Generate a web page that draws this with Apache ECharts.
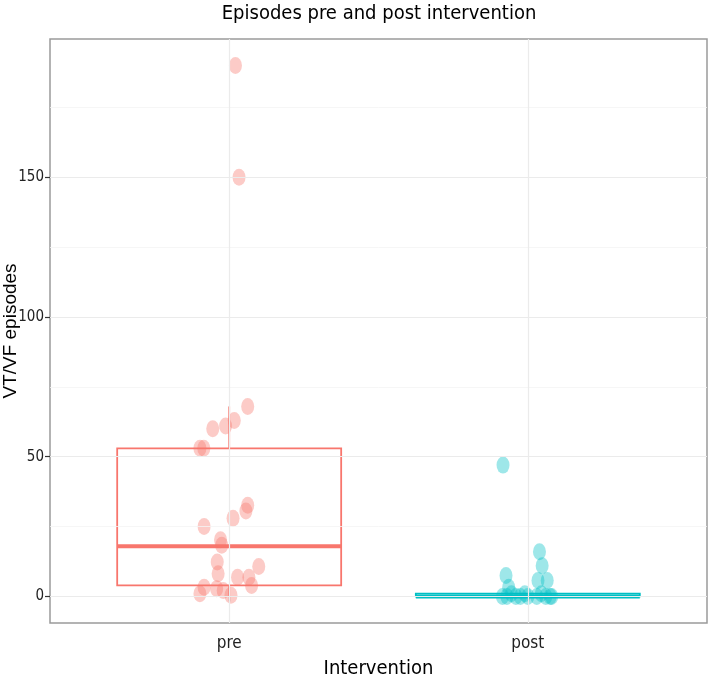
<!DOCTYPE html>
<html>
<head>
<meta charset="utf-8">
<script src="https://cdn.jsdelivr.net/npm/echarts@6/dist/echarts.min.js"></script>
<style>
  html, body { margin: 0; padding: 0; background: #fff; }
  #chart { width: 709px; height: 682px; }
</style>
</head>
<body>
<div id="chart"></div>
<script>
const categories = ['pre', 'post'];
const yTicks = [0, 50, 100, 150];
const yMinorTicks = [25, 75, 125, 175];

// jittered points (x position on the discrete axis, value)
const preX = [1.021, 1.033, 1.062, 1.017, 0.988, 0.945, 0.902, 0.915, 1.062, 1.056, 1.013, 0.916,
  0.971, 0.975, 0.960, 0.963, 1.099, 1.028, 1.066, 1.075, 0.916, 0.902, 0.958, 0.980, 1.006];
const preY = [190, 150, 68, 63, 61, 60, 53, 53, 32.6, 30.6, 28, 25,
  20.3, 18.3, 12.3, 8.1, 10.7, 6.9, 6.9, 3.9, 3.3, 1, 2.8, 2.1, 0.4];
const postX = [1.917, 2.039, 2.048, 1.927, 2.065, 2.034, 1.936,
  1.915, 1.930, 1.945, 1.960, 1.975, 1.990, 2.000, 2.030, 2.045, 2.060, 2.075, 2.080];
const postY = [47, 16, 11, 7.5, 5.7, 5.7, 3.3,
  0, 0, 1, 0, 0, 1, 0, 0, 1, 0, 0, 0];

// [x, lower whisker, Q1, median, Q3, upper whisker]
const boxStats = [
  [1, 0, 4, 18, 53, 68],
  [2, 0, 0, 0, 1, 1]
];

const colors = ['#F8766D', '#00BFC4'];
const narrow = "'Liberation Sans Narrow', 'DejaVu Sans Condensed', sans-serif";

let chart = echarts.init(document.getElementById('chart'));

function renderBox(params, api) {
  const x = api.value(0);
  const half = 0.375;
  const color = colors[params.dataIndex];
  const tl = api.coord([x - half, api.value(4)]);
  const br = api.coord([x + half, api.value(2)]);
  const med = api.coord([x, api.value(3)]);
  const top = api.coord([x, api.value(5)]);
  const bot = api.coord([x, api.value(1)]);
  return {
    type: 'group',
    children: [
      { type: 'line', shape: { x1: top[0], y1: top[1], x2: top[0], y2: tl[1] },
        style: { stroke: color, lineWidth: 1.8 } },
      { type: 'line', shape: { x1: bot[0], y1: bot[1], x2: bot[0], y2: br[1] },
        style: { stroke: color, lineWidth: 1.8 } },
      { type: 'rect', shape: { x: tl[0], y: tl[1], width: br[0] - tl[0], height: br[1] - tl[1] },
        style: { fill: '#fff', stroke: color, lineWidth: 1.8 } },
      { type: 'line', shape: { x1: tl[0], y1: med[1], x2: br[0], y2: med[1] },
        style: { stroke: color, lineWidth: 4 } }
    ]
  };
}

let gridLines = [];
yTicks.forEach(v => gridLines.push({ yAxis: v, lineStyle: { color: '#EBEBEB', width: 1.2, type: 'solid' } }));
yMinorTicks.forEach(v => gridLines.push({ yAxis: v, lineStyle: { color: '#F4F4F4', width: 0.8, type: 'solid' } }));
[1, 2].forEach(v => gridLines.push({ xAxis: v, lineStyle: { color: '#EBEBEB', width: 1.2, type: 'solid' } }));

let option = {
  backgroundColor: '#fff',
  animation: false,
  graphic: [{
    type: 'text',
    x: 379,
    y: 14,
    style: {
      text: 'Episodes pre and post intervention',
      fontFamily: narrow,
      fontSize: 20,
      fill: '#000',
      align: 'center',
      verticalAlign: 'middle'
    }
  }],
  grid: {
    left: 50,
    right: 2,
    top: 39,
    bottom: 59,
    containLabel: false,
    outerBoundsMode: 'none',
    show: true,
    borderColor: '#9A9A9A',
    borderWidth: 1.5,
    backgroundColor: '#fff'
  },
  xAxis: {
    type: 'value',
    min: 0.4,
    max: 2.6,
    name: 'Intervention',
    nameLocation: 'middle',
    nameGap: 36,
    nameMoveOverlap: false,
    nameTextStyle: { fontFamily: narrow, fontSize: 20, color: '#000' },
    axisLine: { show: false },
    splitLine: { show: false },
    axisTick: { show: true, length: 5, customValues: [1, 2], lineStyle: { color: '#333', width: 1.2 } },
    axisLabel: {
      customValues: [1, 2],
      margin: 12,
      fontFamily: narrow,
      fontSize: 17,
      color: '#222',
      formatter: v => categories[Math.round(v) - 1]
    }
  },
  yAxis: {
    type: 'value',
    min: -9.5,
    max: 199.5,
    name: 'VT/VF episodes',
    nameLocation: 'middle',
    nameGap: 30,
    nameMoveOverlap: false,
    nameTextStyle: { fontFamily: 'Liberation Sans, sans-serif', fontSize: 19, color: '#000' },
    axisLine: { show: false },
    splitLine: { show: false },
    axisTick: { show: true, length: 5, customValues: yTicks, lineStyle: { color: '#333', width: 1.2 } },
    axisLabel: {
      customValues: yTicks,
      margin: 6,
      fontFamily: narrow,
      fontSize: 15,
      color: '#222'
    }
  },
  series: [
    {
      name: 'grid',
      type: 'scatter',
      data: [],
      z: 0,
      silent: true,
      markLine: {
        silent: true,
        symbol: 'none',
        label: { show: false },
        data: gridLines
      }
    },
    {
      name: 'box',
      type: 'custom',
      z: 2,
      renderItem: renderBox,
      data: boxStats
    },
    {
      name: 'pre',
      type: 'scatter',
      z: 3,
      symbolSize: [13, 17],
      itemStyle: { color: colors[0], opacity: 0.38 },
      data: preX.map((x, i) => [x, preY[i]])
    },
    {
      name: 'post',
      type: 'scatter',
      z: 3,
      symbolSize: [13, 17],
      itemStyle: { color: colors[1], opacity: 0.38 },
      data: postX.map((x, i) => [x, postY[i]])
    }
  ]
};

chart.setOption(option);
</script>
</body>
</html>
